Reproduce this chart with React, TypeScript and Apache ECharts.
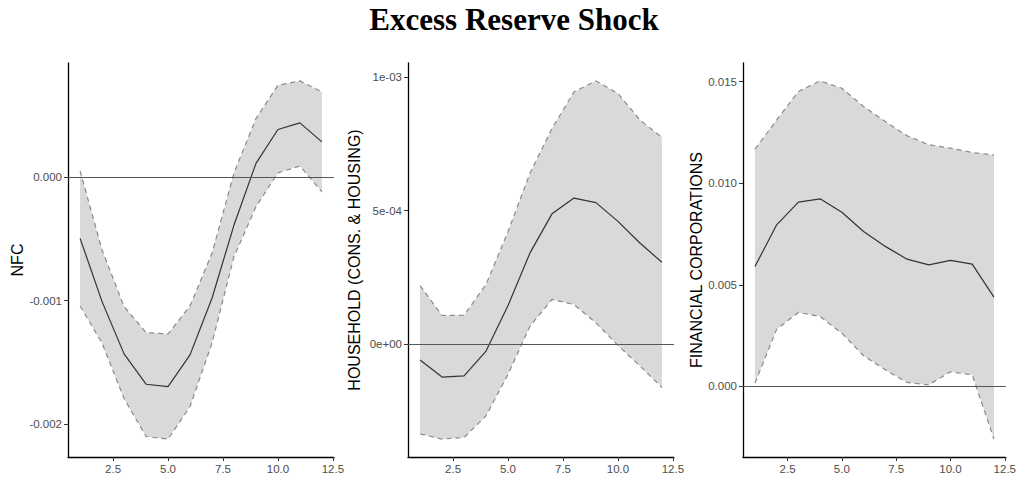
import React, { useEffect, useRef } from "react";
import * as echarts from "echarts";

const steps = [1, 2, 3, 4, 5, 6, 7, 8, 9, 10, 11, 12];

const nfcMean = [-0.000497, -0.001008, -0.00143, -0.001675, -0.001694, -0.001438, -0.000981, -0.00039, 0.000108, 0.000382, 0.000435, 0.000282];
const nfcUpper = [0.000048, -0.000591, -0.001048, -0.001258, -0.001269, -0.001043, -0.000618, 0.00003, 0.00047, 0.000739, 0.000774, 0.000685];
const nfcLower = [-0.001043, -0.001344, -0.00179, -0.002097, -0.002118, -0.001855, -0.001344, -0.000645, -0.000242, 0.000032, 0.000086, -0.000121];

const hhMean = [-0.0000584, -0.000122, -0.000118, -0.0000248, 0.000145, 0.000342, 0.000488, 0.000547, 0.00053, 0.00046, 0.000379, 0.000307];
const hhUpper = [0.00022, 0.000108, 0.000109, 0.000224, 0.000422, 0.00064, 0.000807, 0.000944, 0.000985, 0.000938, 0.000839, 0.000774];
const hhLower = [-0.000335, -0.000354, -0.000348, -0.000267, -0.000112, 0.0000683, 0.000168, 0.000149, 0.0000807, -0.0000037, -0.0000807, -0.000161];

const fcMean = [0.0059, 0.00795, 0.00907, 0.00923, 0.00857, 0.00762, 0.00689, 0.00626, 0.00598, 0.0062, 0.00602, 0.00439];
const fcUpper = [0.01167, 0.01311, 0.01451, 0.01503, 0.01467, 0.01377, 0.01303, 0.01233, 0.01189, 0.01172, 0.01151, 0.01138];
const fcLower = [0.000164, 0.00282, 0.00364, 0.00344, 0.00262, 0.00151, 0.00082, 0.0002, 0.00008, 0.00072, 0.00057, -0.00259];

const xTicks = [2.5, 5, 7.5, 10, 12.5];
const xTickLabels = ["2.5", "5.0", "7.5", "10.0", "12.5"];

const nfcTicks = [-0.002, -0.001, 0];
const nfcTickLabels = ["-0.002", "-0.001", "0.000"];
const hhTicks = [0, 0.0005, 0.001];
const hhTickLabels = ["0e+00", "5e-04", "1e-03"];
const fcTicks = [0, 0.005, 0.01, 0.015];
const fcTickLabels = ["0.000", "0.005", "0.010", "0.015"];

const titleText = "Excess Reserve Shock";
const panelNames = ["NFC", "HOUSEHOLD (CONS. & HOUSING)", "FINANCIAL CORPORATIONS"];

const panels = [
  { mean: nfcMean, upper: nfcUpper, lower: nfcLower, ticks: nfcTicks, labels: nfcTickLabels, name: panelNames[0] },
  { mean: hhMean, upper: hhUpper, lower: hhLower, ticks: hhTicks, labels: hhTickLabels, name: panelNames[1] },
  { mean: fcMean, upper: fcUpper, lower: fcLower, ticks: fcTicks, labels: fcTickLabels, name: panelNames[2] },
];

const gridLefts = [68, 408, 743];
const gridWidth = 266;
const gridTop = 63;
const gridBottomY = 457;
const nameGaps = [43, 46, 39];

function expand(vals: number[]) {
  const mn = Math.min(0, ...vals);
  const mx = Math.max(0, ...vals);
  const pad = (mx - mn) * 0.05;
  return [mn - pad, mx + pad];
}

export default function App() {
  const ref = useRef<HTMLDivElement>(null);
  useEffect(() => {
    if (!ref.current) return;
    const chart = echarts.init(ref.current, null, { renderer: "svg" });
    const fontSans = "Liberation Sans, Arial, sans-serif";
    const grids: any[] = [];
    const xAxes: any[] = [];
    const yAxes: any[] = [];
    const series: any[] = [];
    panels.forEach((p, k) => {
      grids.push({ left: gridLefts[k], top: gridTop, width: gridWidth, height: gridBottomY - gridTop, containLabel: false });
      const xmin = steps[0] - (steps[steps.length - 1] - steps[0]) * 0.05;
      const xmax = steps[steps.length - 1] + (steps[steps.length - 1] - steps[0]) * 0.05;
      xAxes.push({
        type: "value",
        gridIndex: k,
        min: xmin,
        max: xmax,
        axisLine: { show: true, onZero: false, lineStyle: { color: "#000", width: 1.3 } },
        axisTick: { show: true, inside: false, length: 4, customValues: xTicks, lineStyle: { color: "#333", width: 1 } },
        axisLabel: {
          customValues: xTicks,
          formatter: (v: number) => xTickLabels[xTicks.indexOf(v)] ?? String(v),
          color: "#4d4d4d",
          fontSize: 11.5,
          fontFamily: fontSans,
          margin: 6,
          showMinLabel: true,
          showMaxLabel: true,
        },
        splitLine: { show: false },
      });
      const [ymin, ymax] = expand([...p.upper, ...p.lower]);
      yAxes.push({
        type: "value",
        gridIndex: k,
        min: ymin,
        max: ymax,
        name: p.name,
        nameLocation: "middle",
        nameGap: nameGaps[k],
        nameTextStyle: { color: "#000", fontSize: 16, fontFamily: fontSans },
        axisLine: { show: true, onZero: false, lineStyle: { color: "#000", width: 1.3 } },
        axisTick: { show: true, inside: false, length: 4, customValues: p.ticks, lineStyle: { color: "#333", width: 1 } },
        axisLabel: {
          customValues: p.ticks,
          formatter: (v: number) => {
            const i = p.ticks.findIndex((t) => Math.abs(t - v) < 1e-12);
            return i >= 0 ? p.labels[i] : "";
          },
          color: "#4d4d4d",
          fontSize: 11.5,
          fontFamily: fontSans,
          margin: 6,
        },
        splitLine: { show: false },
      });
      series.push({
        type: "custom",
        xAxisIndex: k,
        yAxisIndex: k,
        data: steps.map((s, i) => [s, p.upper[i]]),
        encode: { x: 0, y: 1 },
        silent: true,
        z: 1,
        renderItem: (params: any, api: any) => {
          if (params.dataIndex !== 0) return null;
          const pts: number[][] = [];
          steps.forEach((s, i) => pts.push(api.coord([s, p.upper[i]])));
          for (let i = steps.length - 1; i >= 0; i--) pts.push(api.coord([steps[i], p.lower[i]]));
          return { type: "polygon", shape: { points: pts }, style: { fill: "#d9d9d9", stroke: "none" } };
        },
      });
      series.push({
        type: "line",
        xAxisIndex: k,
        yAxisIndex: k,
        data: steps.map((s, i) => [s, p.upper[i]]),
        symbol: "none",
        z: 3,
        lineStyle: { color: "#8a8a8a", width: 1.2, type: [5, 4] },
      });
      series.push({
        type: "line",
        xAxisIndex: k,
        yAxisIndex: k,
        data: steps.map((s, i) => [s, p.lower[i]]),
        symbol: "none",
        z: 3,
        lineStyle: { color: "#8a8a8a", width: 1.2, type: [5, 4] },
      });
      series.push({
        type: "line",
        xAxisIndex: k,
        yAxisIndex: k,
        data: steps.map((s, i) => [s, p.mean[i]]),
        symbol: "none",
        z: 4,
        lineStyle: { color: "#333333", width: 1.2 },
        markLine: {
          silent: true,
          symbol: "none",
          label: { show: false },
          lineStyle: { color: "#555555", width: 1, type: "solid" },
          data: [{ yAxis: 0 }],
        },
      });
    });
    chart.setOption({
      animation: false,
      backgroundColor: "#ffffff",
      graphic: [
        {
          type: "text",
          x: 514,
          y: 19,
          style: {
            text: titleText,
            fontFamily: "Liberation Serif, Times New Roman, serif",
            fontWeight: "bold",
            fontSize: 31,
            fill: "#000",
            textAlign: "center",
            textVerticalAlign: "middle",
          },
        },
      ],
      grid: grids,
      xAxis: xAxes,
      yAxis: yAxes,
      series,
    });
    return () => chart.dispose();
  }, []);
  return <div ref={ref} style={{ position: "fixed", left: 0, top: 0, width: 1019, height: 477 }} />;
}
